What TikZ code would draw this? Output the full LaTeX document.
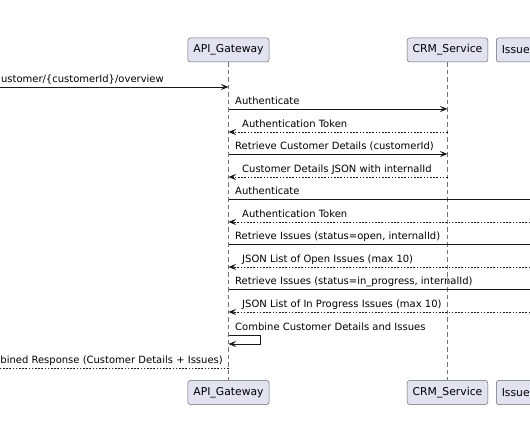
\documentclass[tikz,border=0pt]{standalone}
\usepackage{fontspec}
\setmainfont{DejaVu Sans}
\usetikzlibrary{arrows.meta}
\definecolor{pfill}{HTML}{E2E2F0}
\definecolor{pline}{HTML}{181818}
\begin{document}
\begin{tikzpicture}[x=1pt,y=-1pt,
  participant/.style={draw=pline!65, fill=pfill, rounded corners=2.5pt, line width=0.5pt,
    minimum height=24pt, inner xsep=5.5pt, inner ysep=0pt, font=\fontsize{10.8}{13}\selectfont},
  issuebox/.style={participant, anchor=west, text width=80pt, align=left},
  lifeline/.style={draw=pline!60, line width=0.45pt, dash pattern=on 4.5pt off 3pt},
  msg/.style={draw=pline, line width=0.75pt, -{Stealth[length=7.5pt,width=6pt,inset=3pt]}},
  ret/.style={msg, dash pattern=on 1.6pt off 1.6pt},
  lbl/.style={font=\fontsize{10}{12}\selectfont, inner sep=0pt, text=black}]
\useasboundingbox (0,0) rectangle (530,443);
\clip (0,0) rectangle (530,443);
% participants
\node[participant] (apiT) at (228.5,50) {API\_Gateway};
\node[participant] (crmT) at (447.5,50) {CRM\_Service};
\node[issuebox] (issT) at (496,50) {Issue};
\node[participant] (apiB) at (228.5,392.5) {API\_Gateway};
\node[participant] (crmB) at (447.5,392.5) {CRM\_Service};
\node[issuebox] (issB) at (496,392.5) {Issue};
\coordinate (issX) at (575,0);
\coordinate (leftX) at (-20,0);
% lifelines
\draw[lifeline] (apiT.south) -- (apiB.north);
\draw[lifeline] (crmT.south) -- (crmB.north);
% message rows
\coordinate (r1) at (0,87);
\coordinate (r2) at (0,109);
\coordinate (r3) at (0,132);
\coordinate (r4) at (0,154);
\coordinate (r5) at (0,177);
\coordinate (r6) at (0,199);
\coordinate (r7) at (0,222);
\coordinate (r8) at (0,244);
\coordinate (r9) at (0,267);
\coordinate (r10) at (0,289);
\coordinate (r11) at (0,312);
\coordinate (r12a) at (0,335);
\coordinate (r12b) at (0,344);
\coordinate (r13) at (0,368);
% messages
\draw[msg] (leftX |- r1) -- (apiT.south |- r1);
\node[lbl, anchor=base east] (t1) at (164,83) {ustomer/\{customerId\}/overview};
\draw[msg] (apiT.south |- r2) -- (crmT.south |- r2);
\node[lbl, anchor=base west] (t2) at (235,105) {Authenticate};
\draw[ret] (crmT.south |- r3) -- (apiT.south |- r3);
\node[lbl, anchor=base west] (t3) at (242,128) {Authentication Token};
\draw[msg] (apiT.south |- r4) -- (crmT.south |- r4);
\node[lbl, anchor=base west] (t4) at (235,150) {Retrieve Customer Details (customerId)};
\draw[ret] (crmT.south |- r5) -- (apiT.south |- r5);
\node[lbl, anchor=base west] (t5) at (242,173) {Customer Details JSON with internalId};
\draw[msg] (apiT.south |- r6) -- (issX |- r6);
\node[lbl, anchor=base west] (t6) at (235,195) {Authenticate};
\draw[ret] (issX |- r7) -- (apiT.south |- r7);
\node[lbl, anchor=base west] (t7) at (242,218) {Authentication Token};
\draw[msg] (apiT.south |- r8) -- (issX |- r8);
\node[lbl, anchor=base west] (t8) at (235,240) {Retrieve Issues (status=open, internalId)};
\draw[ret] (issX |- r9) -- (apiT.south |- r9);
\node[lbl, anchor=base west] (t9) at (242,263) {JSON List of Open Issues (max 10)};
\draw[msg] (apiT.south |- r10) -- (issX |- r10);
\node[lbl, anchor=base west] (t10) at (235,285) {Retrieve Issues (status=in\_progress, internalId)};
\draw[ret] (issX |- r11) -- (apiT.south |- r11);
\node[lbl, anchor=base west] (t11) at (242,308) {JSON List of In Progress Issues (max 10)};
\draw[msg] (apiT.south |- r12a) -- ++(32,0) |- (apiT.south |- r12b);
\node[lbl, anchor=base west] (t12) at (235,331) {Combine Customer Details and Issues};
\draw[ret] (apiT.south |- r13) -- (leftX |- r13);
\node[lbl, anchor=base east] (t13) at (223,364) {bined Response (Customer Details + Issues)};
\end{tikzpicture}
\end{document}
